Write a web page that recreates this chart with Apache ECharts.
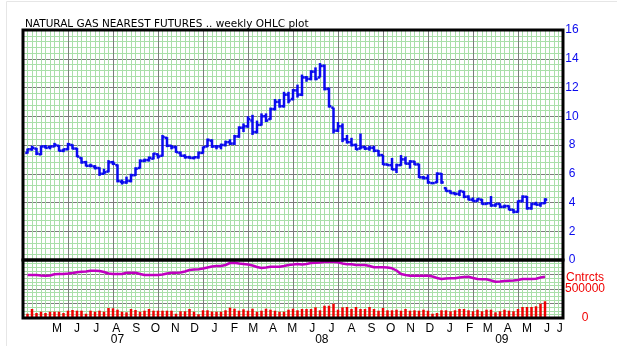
<!DOCTYPE html>
<html><head><meta charset="utf-8">
<script src="https://cdn.jsdelivr.net/npm/echarts@6/dist/echarts.min.js"></script>
<style>html,body{margin:0;padding:0;background:#fff}#c{width:617px;height:346px}</style>
</head><body><div id="c"></div>
<script>
// Week 0 of the x axis = 2007-03-23 (Friday); bars are weekly, week 1 = 2007-03-30
const axisStartUTC = Date.UTC(2007, 2, 23);

const openP = [
7.45,7.70,7.75,7.35,7.90,7.85,7.90,7.95,7.60,7.70,
8.00,7.75,7.10,6.80,6.55,6.50,6.40,6.00,6.15,6.80,
6.60,5.45,5.40,5.50,5.90,6.40,6.90,6.95,7.05,7.35,
7.25,8.50,7.95,7.85,7.45,7.25,7.15,7.10,7.15,7.45,
7.90,8.30,7.90,7.90,8.00,8.20,8.10,8.60,9.20,9.30,
9.70,8.90,9.40,10.0,9.80,10.5,11.0,10.7,11.5,11.2,
11.8,11.5,12.7,12.6,13.1,12.7,13.5,11.9,10.6,9.0,
9.3,8.4,8.2,8.0,7.75,7.85,7.75,7.8,7.6,7.3,
6.65,6.6,6.3,6.6,7.0,6.7,6.85,6.65,5.75,5.7,
5.35,5.4,6.0,5.0,4.8,4.65,4.6,4.75,4.4,4.2,
4.1,4.2,3.9,3.95,3.8,3.9,3.7,3.75,3.5,3.35,
4.1,4.4,3.6,3.9,3.85,3.95];
const highP = [
7.75,7.95,7.80,7.95,8.00,7.95,8.15,8.00,7.75,8.15,
8.05,7.80,7.15,6.90,6.70,6.60,6.45,6.35,6.95,6.90,
6.65,5.60,5.80,6.00,6.45,7.00,7.05,7.20,7.45,7.40,
8.70,8.55,8.00,7.95,7.55,7.35,7.25,7.20,7.55,7.90,
8.45,8.40,8.00,8.10,8.30,8.40,8.70,9.30,9.50,10.0,
10.1,9.70,10.2,10.2,10.6,11.2,11.2,11.7,11.7,11.9,
12.2,12.9,12.8,13.2,13.4,13.7,13.6,12.0,10.6,9.6,
9.5,8.7,8.5,8.1,8.8,7.95,7.95,7.95,7.65,7.3,
6.7,7.1,6.7,7.3,7.2,6.95,6.9,6.7,5.85,5.95,
5.4,6.1,6.05,5.05,4.85,4.7,4.85,4.8,4.5,4.35,
4.3,4.25,4.0,4.45,3.95,3.95,3.85,3.8,3.55,4.15,
4.5,4.45,4.0,4.05,4.0,4.3];
const lowP = [
7.40,7.60,7.30,7.30,7.75,7.70,7.85,7.55,7.50,7.65,
7.70,7.15,6.70,6.50,6.45,6.30,5.85,5.95,6.10,6.60,
5.40,5.25,5.30,5.40,5.85,6.35,6.80,6.85,7.00,7.05,
7.20,7.85,7.70,7.45,7.20,7.05,7.05,7.00,7.05,7.40,
7.85,7.80,7.70,7.70,7.90,8.00,8.00,8.50,8.90,9.20,
8.70,8.80,9.35,9.60,9.75,10.4,10.6,10.6,10.9,11.1,
11.3,11.4,12.4,12.5,12.5,12.7,11.8,10.6,8.8,8.9,
8.2,8.1,7.9,7.65,7.7,7.65,7.6,7.5,7.2,6.6,
6.55,6.25,6.05,6.55,6.65,6.35,6.6,5.7,5.6,5.3,
5.3,5.35,5.3,4.75,4.6,4.5,4.45,4.3,4.15,4.05,
4.05,3.85,3.85,3.7,3.7,3.6,3.6,3.45,3.25,3.3,
4.0,3.5,3.5,3.8,3.7,3.9];
const closeP = [
7.70,7.80,7.40,7.90,7.80,7.90,8.00,7.60,7.70,8.05,
7.75,7.20,6.80,6.55,6.55,6.40,6.00,6.10,6.80,6.70,
5.50,5.40,5.50,5.90,6.35,6.90,6.95,7.10,7.40,7.20,
8.55,7.95,7.85,7.50,7.25,7.15,7.10,7.15,7.45,7.85,
8.35,7.90,7.90,8.00,8.20,8.10,8.60,9.20,9.30,9.80,
8.90,9.40,10.0,9.70,10.5,11.0,10.7,11.5,11.1,11.8,
11.5,12.7,12.6,13.1,12.6,13.5,11.9,10.7,9.0,9.3,
8.4,8.2,8.0,7.7,7.85,7.75,7.8,7.6,7.3,6.65,
6.6,6.3,6.6,7.0,6.7,6.85,6.65,5.75,5.7,5.4,
5.35,6.0,5.4,4.8,4.65,4.6,4.8,4.4,4.2,4.1,
4.25,3.9,3.95,3.8,3.9,3.7,3.75,3.5,3.35,4.1,
4.4,3.6,3.9,3.85,3.95,4.2];
// open interest, thousands of contracts
const openInterestK = [
741,741,741,733,729,733,755,759,759,767,
776,788,797,802,814,816,810,793,767,759,
759,759,779,781,781,759,741,741,741,741,
750,767,779,781,784,802,828,836,840,853,
871,888,897,897,914,948,953,940,931,922,
905,879,862,871,884,884,884,897,914,922,
931,922,931,948,953,957,966,966,966,960,
940,926,926,914,914,914,897,874,874,874,
871,857,819,759,741,729,729,729,729,729,
716,690,672,681,684,684,698,707,712,690,
672,667,667,647,626,629,638,643,647,655,
672,672,672,676,698,712];
// weekly volume, thousands of contracts
const volumeK = [
74,155,86,109,86,109,109,109,86,126,
138,126,126,74,126,109,126,109,172,167,
143,109,98,155,138,109,126,155,126,126,
126,126,126,74,116,116,155,109,65,133,
133,112,109,109,133,178,160,126,150,126,
160,109,126,160,143,126,109,109,143,160,
133,155,155,155,184,133,212,212,247,143,
184,190,155,190,155,155,190,155,126,172,
133,133,143,126,155,126,133,126,143,126,
74,86,133,133,116,133,155,155,133,116,
143,116,143,143,98,116,143,126,116,155,
190,190,190,202,247,288];

const monthLabels = ['M','J','J','A','S','O','N','D','J','F','M','A','M','J','J','A','S','O','N','D','J','F','M','A','M','J','J'];
const firstLabelMonth = {year: 2007, month: 4}; // May 2007 (0-based month)
const yearLabels = ['07','08','09'];
const priceTicks = [0,2,4,6,8,10,12,14,16];
const volumeTicks = [0, 500000];
const volumeAxisName = 'Cntrcts';

const BLUE = '#0a0aee', RED = '#f00000', PURPLE = '#c000c0';
const GREEN = '#a9dfa9', GRAY = '#7c7c7c';
const FONT = 'Liberation Sans';
const WEEK_MS = 7 * 86400000;

const ohlcData = openP.map((o, k) => [k + 1, o, highP[k], lowP[k], closeP[k]]);
const oiData = openInterestK.map((v, k) => [k + 1, v * 1000]);
const volData = volumeK.map((v, k) => [k + 1, v * 1000]);

const monthPos = monthLabels.map((m, k) => {
  const d = Date.UTC(firstLabelMonth.year, firstLabelMonth.month + k, 15);
  return Math.min((d - axisStartUTC) / WEEK_MS, 119.3);
});
const yearPos = [21.0, 66.4, 106.4];

function xAxisBase(gridIndex) {
  return {
    type: 'value', gridIndex, min: 0, max: 120, interval: 10,
    axisLine: {show: false}, axisTick: {show: false},
    axisLabel: {show: false},
    splitLine: {show: true, lineStyle: {color: GRAY, width: 1}},
    minorTick: {show: false, splitNumber: 10},
    minorSplitLine: {show: true, lineStyle: {color: GREEN, width: 1}}
  };
}

const chart = echarts.init(document.getElementById('c'), null, {renderer: 'canvas'});
const option = {
  animation: false,
  backgroundColor: '#fff',
  title: {
    text: 'NATURAL GAS NEAREST FUTURES .. weekly OHLC plot',
    left: 20, top: 14,
    textStyle: {fontFamily: 'DejaVu Sans', fontSize: 10.5, fontWeight: 'normal', color: '#000'}
  },
  graphic: [
    {type: 'line', z: -10, shape: {x1: 6.5, y1: 1.5, x2: 617, y2: 1.5}, style: {stroke: '#e6e6e6', lineWidth: 1}},
    {type: 'line', z: -10, shape: {x1: 6.5, y1: 1.5, x2: 6.5, y2: 346}, style: {stroke: '#e6e6e6', lineWidth: 1}},
    {type: 'text', x: 566, y: 277.5, z: 10,
      style: {text: volumeAxisName, fill: RED, font: '12px "Liberation Sans"', textAlign: 'left', textVerticalAlign: 'middle'}}
  ],
  grid: [
    {left: 23, top: 30, width: 540, height: 230, show: true, borderColor: '#000', borderWidth: 3, z: 5},
    {left: 23, top: 260, width: 540, height: 58, show: true, borderColor: '#000', borderWidth: 3, z: 5}
  ],
  xAxis: [
    xAxisBase(0),
    Object.assign(xAxisBase(1), {
      axisLabel: {
        show: true, customValues: monthPos, margin: 5,
        fontFamily: FONT, fontSize: 12, color: '#000',
        formatter: (v) => { const k = monthPos.findIndex(p => Math.abs(p - v) < 1e-6); return k >= 0 ? monthLabels[k] : ''; }
      }
    }),
    {
      type: 'value', gridIndex: 1, min: 0, max: 120, position: 'bottom', offset: 11,
      axisLine: {show: false}, axisTick: {show: false}, splitLine: {show: false},
      axisLabel: {
        show: true, customValues: yearPos, margin: 5,
        fontFamily: FONT, fontSize: 12, color: '#000',
        formatter: (v) => { const k = yearPos.findIndex(p => Math.abs(p - v) < 1e-6); return k >= 0 ? yearLabels[k] : ''; }
      }
    }
  ],
  yAxis: [
    {
      type: 'value', gridIndex: 0, position: 'right', min: 0, max: 16, interval: 2,
      axisLine: {show: false}, axisTick: {show: false},
      axisLabel: {show: true, customValues: priceTicks, margin: 9, align: 'center', color: BLUE, fontFamily: FONT, fontSize: 12},
      splitLine: {show: true, lineStyle: {color: GRAY, width: 1}},
      minorTick: {show: false, splitNumber: 5},
      minorSplitLine: {show: true, lineStyle: {color: GREEN, width: 1}}
    },
    {
      type: 'value', gridIndex: 1, position: 'right', min: 0, max: 1000000, interval: 250000,
      axisLine: {show: false}, axisTick: {show: false},
      axisLabel: {show: true, customValues: volumeTicks, margin: 22, align: 'center', color: RED, fontFamily: FONT, fontSize: 12,
        formatter: (v) => String(v)},
      splitLine: {show: true, lineStyle: {color: GRAY, width: 1}},
      minorTick: {show: false, splitNumber: 4},
      minorSplitLine: {show: true, lineStyle: {color: GREEN, width: 1}}
    }
  ],
  series: [
    {
      type: 'custom', xAxisIndex: 0, yAxisIndex: 0, data: ohlcData, clip: true,
      encode: {x: 0, y: [1, 2, 3, 4]},
      renderItem: function (params, api) {
        const i = api.value(0);
        const o = api.coord([i, api.value(1)]);
        const h = api.coord([i, api.value(2)]);
        const l = api.coord([i, api.value(3)]);
        const c = api.coord([i, api.value(4)]);
        const half = api.size([0.5, 0])[0];
        const style = {stroke: BLUE, lineWidth: 2.5, fill: null};
        return {type: 'group', children: [
          {type: 'line', shape: {x1: h[0], y1: h[1], x2: l[0], y2: l[1]}, style},
          {type: 'line', shape: {x1: o[0] - half, y1: o[1], x2: o[0], y2: o[1]}, style},
          {type: 'line', shape: {x1: c[0], y1: c[1], x2: c[0] + half, y2: c[1]}, style}
        ]};
      }
    },
    {
      type: 'bar', xAxisIndex: 1, yAxisIndex: 1, data: volData, barWidth: 2.5,
      itemStyle: {color: RED}, silent: true
    },
    {
      type: 'line', xAxisIndex: 1, yAxisIndex: 1, data: oiData, showSymbol: false,
      lineStyle: {color: PURPLE, width: 2.5}, silent: true
    }
  ]
};
chart.setOption(option);
</script>
</body></html>
